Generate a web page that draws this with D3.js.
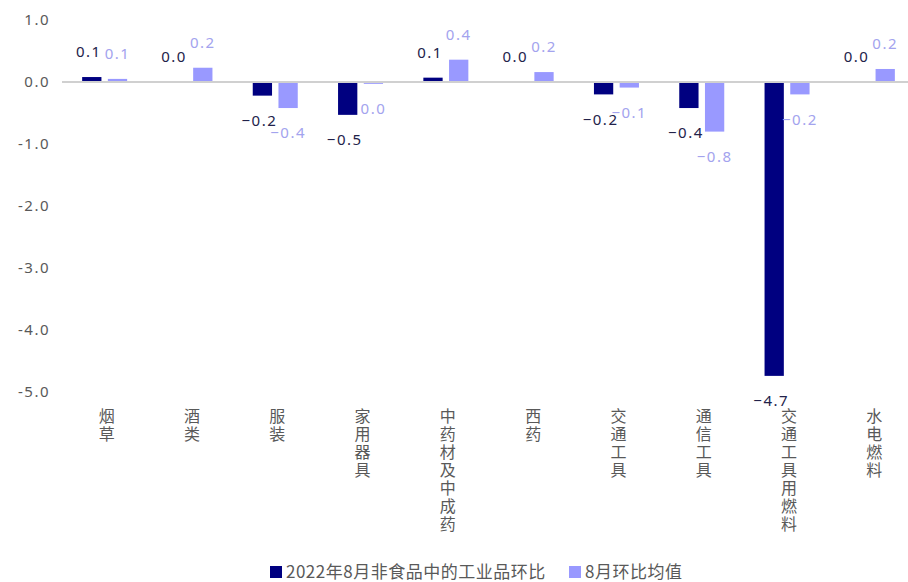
<!DOCTYPE html>
<html>
<head>
<meta charset="utf-8">
<script src="https://cdn.jsdelivr.net/npm/d3@7"></script>
<style>
  html, body { margin: 0; padding: 0; background: #fff; }
  svg { display: block; font-family: "Noto Sans CJK SC", "Noto Sans", sans-serif; }
  .cat { writing-mode: vertical-rl; text-orientation: upright; }
</style>
</head>
<body>
<svg id="chart" width="908" height="582"></svg>
<script>
// Categories of non-food industrial goods
const categories = ["烟草", "酒类", "服装", "家用器具", "中药材及中成药", "西药", "交通工具", "通信工具", "交通工具用燃料", "水电燃料"];
// Month-on-month change, August 2022 (%)
const aug2022 = [0.08, 0.0, -0.22, -0.53, 0.07, 0.0, -0.2, -0.42, -4.74, 0.0];
// Average August month-on-month change (%)
const augAverage = [0.05, 0.23, -0.42, -0.03, 0.36, 0.16, -0.09, -0.8, -0.2, 0.21];
const seriesNames = ["2022年8月非食品中的工业品环比", "8月环比均值"];
const yTicks = [1, 0, -1, -2, -3, -4, -5];

const barColors = ["#000080", "#9999FF"];
const labelColors = ["#22224a", "#a3a3ee"];
const axisText = "#595959";

const svg = d3.select("#chart");

const y = d3.scaleLinear().domain([-5, 1]).range([392, 20]);
const x0 = d3.scaleBand().domain(categories).range([62, 915]).padding(0);
const groupWidth = 45;
const x1 = d3.scaleBand().domain([0, 1]).range([0, groupWidth]).paddingInner(0.25);

const fmt = v => d3.format(".1f")(v);

// Y axis tick labels (no axis line)
const yAxis = d3.axisLeft(y).tickValues(yTicks).tickSize(0).tickPadding(0)
  .tickFormat(d => d3.format(".1f")(d).replace("−", "-"));
const gy = svg.append("g").attr("transform", "translate(50,0)").call(yAxis);
gy.select(".domain").remove();
gy.selectAll("text")
  .attr("fill", axisText)
  .style("font-size", "15px")
  .style("letter-spacing", "1.5px")
  .style("font-family", "'Noto Sans', sans-serif");

// Bars
const series = [aug2022, augAverage];
const groupOffset = (x0.bandwidth() - groupWidth) / 2;

series.forEach((vals, si) => {
  svg.append("g").selectAll("rect")
    .data(vals)
    .join("rect")
    .attr("x", (d, i) => x0(categories[i]) + groupOffset + x1(si))
    .attr("width", x1.bandwidth())
    .attr("y", d => y(Math.max(0, d)))
    .attr("height", d => Math.abs(y(d) - y(0)))
    .attr("fill", barColors[si]);
});

// Zero baseline
svg.append("line")
  .attr("x1", 62).attr("x2", 915)
  .attr("y1", y(0)).attr("y2", y(0))
  .attr("stroke", "#d0d0d0")
  .attr("stroke-width", 2);

// Value labels
series.forEach((vals, si) => {
  svg.append("g").selectAll("text")
    .data(vals)
    .join("text")
    .attr("x", (d, i) => x0(categories[i]) + groupOffset + x1(si) + x1.bandwidth() / 2 + (si === 0 ? -3 : 0))
    .attr("y", d => d >= 0 ? y(d) - 25 : y(d) + 25)
    .attr("dy", "0.35em")
    .attr("text-anchor", "middle")
    .attr("fill", labelColors[si])
    .style("font-size", "15px")
    .style("letter-spacing", "1.5px")
    .style("font-family", "'Noto Sans', sans-serif")
    .text(d => fmt(d));
});

// Vertical category labels
svg.append("g").selectAll("text")
  .data(categories)
  .join("text")
  .attr("class", "cat")
  .attr("x", c => x0(c) + x0.bandwidth() / 2 + 2)
  .attr("y", 408)
  .attr("fill", axisText)
  .style("font-size", "16px")
  .style("letter-spacing", "2px")
  .text(c => c);

// Legend
const legend = svg.append("g");
const legendItems = [
  { x: 270, name: seriesNames[0], color: barColors[0] },
  { x: 569, name: seriesNames[1], color: barColors[1] }
];
legendItems.forEach(it => {
  legend.append("rect").attr("x", it.x).attr("y", 566).attr("width", 12).attr("height", 12).attr("fill", it.color);
  legend.append("text").attr("x", it.x + 16).attr("y", 572).attr("dy", "0.35em")
    .attr("fill", axisText).style("font-size", "17px").style("letter-spacing", "0.5px").text(it.name);
});
</script>
</body>
</html>
